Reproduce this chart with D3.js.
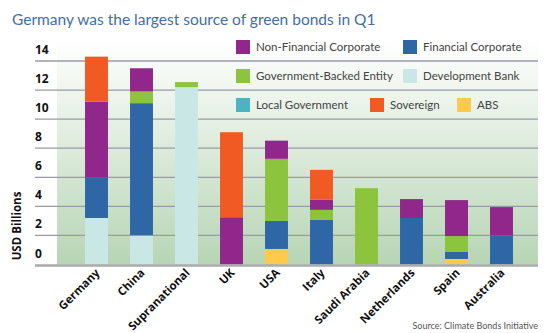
<!DOCTYPE html>
<html>
<head>
<meta charset="utf-8">
<script src="https://cdn.jsdelivr.net/npm/d3@7"></script>
<style>
  body { margin: 0; background: #fff; }
  svg { display: block; }
</style>
</head>
<body>
<svg id="chart" width="550" height="333"></svg>
<script>

/* ── data ── */
const countries = ['Germany', 'China', 'Supranational', 'UK', 'USA', 'Italy',
                   'Saudi Arabia', 'Netherlands', 'Spain', 'Australia'];

const seriesNames = ['Development Bank', 'ABS', 'Financial Corporate', 'Government-Backed Entity',
                     'Local Government', 'Non-Financial Corporate', 'Sovereign'];

const devBank     = [3.2, 2.0, 12.2, 0,    0,    0,    0,    0,   0,    0];
const abs         = [0,   0,   0,    0,    1.07, 0,    0,    0,   0.38, 0];
const financial   = [2.8, 9.1, 0,    0,    1.93, 3.06, 0,    3.2, 0.48, 2.0];
const govBacked   = [0,   0.8, 0.35, 0,    4.2,  0.7,  5.25, 0,   1.1,  0];
const localGov    = [0,   0,   0,    0,    0.07, 0,    0,    0,   0,    0];
const nonFin      = [5.2, 1.6, 0,    3.25, 1.25, 0.7,  0,    1.3, 2.47, 1.95];
const sovereign   = [3.1, 0,   0,    5.85, 0,    2.05, 0,    0,   0,    0];

const yTicks = [0, 2, 4, 6, 8, 10, 12, 14];

const legendRows = [
  ['Non-Financial Corporate', 'Financial Corporate'],
  ['Government-Backed Entity', 'Development Bank'],
  ['Local Government', 'Sovereign', 'ABS']
];

const colors = {
  'Non-Financial Corporate': '#91268b',
  'Financial Corporate': '#2f67a6',
  'Government-Backed Entity': '#8cc43e',
  'Development Bank': '#c9e8e5',
  'Local Government': '#4bb3c1',
  'Sovereign': '#f15b23',
  'ABS': '#fdca4c'
};

/* build table for the stack */
const seriesValues = [devBank, abs, financial, govBacked, localGov, nonFin, sovereign];
const table = countries.map((c, i) => {
  const row = { country: c };
  seriesNames.forEach((s, j) => row[s] = seriesValues[j][i]);
  return row;
});

const svg = d3.select('#chart');

const xScale = d3.scaleBand()
  .domain(countries)
  .range([74, 524])
  .paddingInner(0.49)
  .paddingOuter(0.245);

const yScale = d3.scaleLinear()
  .domain([0, 14])
  .range([264.5, 61]);

/* ── background gradient ── */
const defs = svg.append('defs');
const grad = defs.append('linearGradient')
  .attr('id', 'bg').attr('x1', 0).attr('y1', 0).attr('x2', 0).attr('y2', 1);
grad.append('stop').attr('offset', '0%').attr('stop-color', '#ffffff');
grad.append('stop').attr('offset', '100%').attr('stop-color', '#b7d5b5');

svg.append('rect')
  .attr('x', 57).attr('y', 40)
  .attr('width', 538 - 57).attr('height', yScale(0) - 40)
  .attr('fill', 'url(#bg)');

/* ── title ── */
svg.append('text')
  .attr('x', 12).attr('y', 25)
  .attr('font-family', 'Lato, sans-serif').attr('font-size', '15.5px')
  .attr('fill', '#3f6eab')
  .text('Germany was the largest source of green bonds in Q1');

/* ── gridlines ── */
svg.append('g').selectAll('line')
  .data(yTicks.filter(d => d > 0))
  .join('line')
  .attr('x1', 35).attr('x2', 538)
  .attr('y1', d => yScale(d)).attr('y2', d => yScale(d))
  .attr('stroke', '#9b9aa8').attr('stroke-width', 1.3);

/* tick labels sit above their gridlines */
svg.append('g').selectAll('text')
  .data(yTicks)
  .join('text')
  .attr('x', 35).attr('y', d => yScale(d) - 7)
  .attr('font-family', '"Open Sans", sans-serif').attr('font-size', '12px')
  .attr('font-weight', 700).attr('fill', '#111')
  .text(d => d);

/* ── y axis title ── */
svg.append('text')
  .attr('transform', 'translate(21,226) rotate(-90)')
  .attr('text-anchor', 'middle')
  .attr('font-family', '"Open Sans", sans-serif').attr('font-size', '11.5px')
  .attr('font-weight', 700).attr('fill', '#111')
  .text('USD Billions');

/* ── legend ── */
const legendX = [236, 403];
const legendRow3X = [236, 370, 457];
const legendY = [47, 76, 105];

legendRows.forEach((row, r) => {
  row.forEach((name, k) => {
    const x = r === 2 ? legendRow3X[k] : legendX[k];
    const g = svg.append('g').attr('transform', `translate(${x},${legendY[r]})`);
    g.append('rect')
      .attr('x', 0).attr('y', -7)
      .attr('width', 14).attr('height', 14)
      .attr('fill', colors[name]);
    g.append('text')
      .attr('x', 20).attr('y', 4)
      .attr('font-family', 'Lato, sans-serif').attr('font-size', '11.5px')
      .attr('fill', '#444')
      .text(name);
  });
});

/* ── stacked bars ── */
const stack = d3.stack().keys(seriesNames);
const layers = stack(table);

svg.append('g').selectAll('g')
  .data(layers)
  .join('g')
  .attr('fill', d => colors[d.key])
  .selectAll('rect')
  .data(d => d.filter(p => p[1] - p[0] > 0))
  .join('rect')
  .attr('x', d => xScale(d.data.country))
  .attr('width', xScale.bandwidth())
  .attr('y', d => yScale(d[1]))
  .attr('height', d => yScale(d[0]) - yScale(d[1]));

/* ── baseline ── */
svg.append('line')
  .attr('x1', 35).attr('x2', 538)
  .attr('y1', yScale(0) + 1).attr('y2', yScale(0) + 1)
  .attr('stroke', '#a9aaaa').attr('stroke-width', 2.5);

/* ── category labels ── */
svg.append('g').selectAll('text')
  .data(countries)
  .join('text')
  .attr('transform', d => `translate(${xScale(d) + xScale.bandwidth() / 2 + 4},${yScale(0) + 9}) rotate(-45)`)
  .attr('text-anchor', 'end')
  .attr('font-family', '"Open Sans", sans-serif').attr('font-size', '11.5px')
  .attr('font-weight', 700).attr('fill', '#111')
  .text(d => d);

/* ── source ── */
svg.append('text')
  .attr('x', 538).attr('y', 329)
  .attr('text-anchor', 'end')
  .attr('font-family', 'Lato, sans-serif').attr('font-size', '9px')
  .attr('fill', '#555')
  .text('Source: Climate Bonds Initiative');

</script>
</body>
</html>
